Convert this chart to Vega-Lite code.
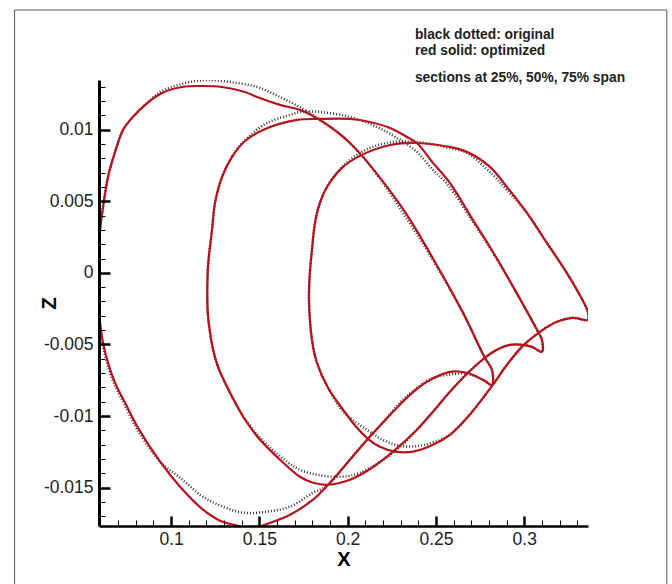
{"$schema":"https://vega.github.io/schema/vega-lite/v6.json","width":489,"height":446,"autosize":"none","padding":{"left":99,"top":80,"right":84,"bottom":58},"background":"white","config":{"view":{"stroke":null},"font":"Liberation Sans"},
"datasets":{
"frame":[{"x":0.01142,"z":0.01836,"x2":0.38074,"z2":-0.02213}],
"notes":[{"x":0.2381,"z":0.0166,"label":"black dotted: original"},{"x":0.2381,"z":0.01552,"label":"red solid: optimized"},{"x":0.2381,"z":0.01361,"label":"sections at 25%, 50%, 75% span"}],
"original":[
{"s":"A","x":0.0581,"z":-0.00014},{"s":"A","x":0.059,"z":0.00181},{"s":"A","x":0.0598,"z":0.003},{"s":"A","x":0.0615,"z":0.00461},{"s":"A","x":0.0643,"z":0.0067},{"s":"A","x":0.0683,"z":0.00845},{"s":"A","x":0.0728,"z":0.00998},{"s":"A","x":0.0779,"z":0.01082},{"s":"A","x":0.0853,"z":0.01173},{"s":"A","x":0.0938,"z":0.01263},{"s":"A","x":0.1023,"z":0.01305},{"s":"A","x":0.1108,"z":0.01333},{"s":"A","x":0.1204,"z":0.01347},{"s":"A","x":0.1334,"z":0.01333},{"s":"A","x":0.1487,"z":0.01298},{"s":"A","x":0.1617,"z":0.01228},{"s":"A","x":0.1747,"z":0.01145},{"s":"A","x":0.1843,"z":0.01068},{"s":"A","x":0.1957,"z":0.0097},{"s":"A","x":0.2087,"z":0.0081},{"s":"A","x":0.22,"z":0.00628},{"s":"A","x":0.2313,"z":0.00419},{"s":"A","x":0.2455,"z":0.00147},{"s":"A","x":0.2653,"z":-0.00279},{"s":"A","x":0.2777,"z":-0.00593},{"s":"A","x":0.2817,"z":-0.00677},{"s":"A","x":0.2817,"z":-0.00782},{"s":"A","x":0.2766,"z":-0.00747},{"s":"A","x":0.2675,"z":-0.00705},{"s":"A","x":0.2568,"z":-0.00712},{"s":"A","x":0.2483,"z":-0.00733},{"s":"A","x":0.2392,"z":-0.00803},{"s":"A","x":0.2296,"z":-0.00907},{"s":"A","x":0.22,"z":-0.01047},{"s":"A","x":0.2115,"z":-0.01159},{"s":"A","x":0.2013,"z":-0.01305},{"s":"A","x":0.1883,"z":-0.01487},{"s":"A","x":0.1804,"z":-0.01536},{"s":"A","x":0.1674,"z":-0.01633},{"s":"A","x":0.1544,"z":-0.01668},{"s":"A","x":0.1408,"z":-0.01675},{"s":"A","x":0.1294,"z":-0.01633},{"s":"A","x":0.1181,"z":-0.01564},{"s":"A","x":0.1051,"z":-0.01431},{"s":"A","x":0.0938,"z":-0.01319},{"s":"A","x":0.0808,"z":-0.01092},{"s":"A","x":0.0735,"z":-0.00915},{"s":"A","x":0.0678,"z":-0.00775},{"s":"A","x":0.0639,"z":-0.00635},{"s":"A","x":0.0612,"z":-0.00496},{"s":"A","x":0.0595,"z":-0.00349},{"s":"A","x":0.0585,"z":-0.00188},{"s":"A","x":0.0581,"z":-0.00014},
{"s":"B","x":0.1208,"z":0.00021},{"s":"B","x":0.1215,"z":0.00126},{"s":"B","x":0.1232,"z":0.003},{"s":"B","x":0.1249,"z":0.00489},{"s":"B","x":0.1289,"z":0.0067},{"s":"B","x":0.1345,"z":0.0081},{"s":"B","x":0.1408,"z":0.00914},{"s":"B","x":0.1544,"z":0.01047},{"s":"B","x":0.1674,"z":0.01103},{"s":"B","x":0.173,"z":0.01124},{"s":"B","x":0.1843,"z":0.01124},{"s":"B","x":0.2013,"z":0.01089},{"s":"B","x":0.2166,"z":0.01019},{"s":"B","x":0.2279,"z":0.00942},{"s":"B","x":0.2392,"z":0.00845},{"s":"B","x":0.2483,"z":0.00719},{"s":"B","x":0.2568,"z":0.00614},{"s":"B","x":0.2709,"z":0.00356},{"s":"B","x":0.2806,"z":0.00174},{"s":"B","x":0.2947,"z":-0.00119},{"s":"B","x":0.3072,"z":-0.00398},{"s":"B","x":0.31,"z":-0.00468},{"s":"B","x":0.31,"z":-0.00551},{"s":"B","x":0.3043,"z":-0.00517},{"s":"B","x":0.2992,"z":-0.00503},{"s":"B","x":0.2919,"z":-0.00503},{"s":"B","x":0.2845,"z":-0.00537},{"s":"B","x":0.2777,"z":-0.00593},{"s":"B","x":0.2681,"z":-0.00698},{"s":"B","x":0.2579,"z":-0.00831},{"s":"B","x":0.2483,"z":-0.0097},{"s":"B","x":0.2392,"z":-0.01096},{"s":"B","x":0.2257,"z":-0.01256},{"s":"B","x":0.207,"z":-0.01396},{"s":"B","x":0.1957,"z":-0.01424},{"s":"B","x":0.1826,"z":-0.0141},{"s":"B","x":0.173,"z":-0.01375},{"s":"B","x":0.1657,"z":-0.01319},{"s":"B","x":0.1504,"z":-0.01152},{"s":"B","x":0.1419,"z":-0.01019},{"s":"B","x":0.1379,"z":-0.00942},{"s":"B","x":0.1317,"z":-0.00796},{"s":"B","x":0.1266,"z":-0.00656},{"s":"B","x":0.1238,"z":-0.00537},{"s":"B","x":0.1221,"z":-0.00419},{"s":"B","x":0.1208,"z":-0.00279},{"s":"B","x":0.1205,"z":-0.00129},{"s":"B","x":0.1208,"z":0.00021},
{"s":"C","x":0.1787,"z":0.00021},{"s":"C","x":0.1798,"z":0.00161},{"s":"C","x":0.1815,"z":0.00349},{"s":"C","x":0.1843,"z":0.00489},{"s":"C","x":0.19,"z":0.00635},{"s":"C","x":0.2013,"z":0.00789},{"s":"C","x":0.2126,"z":0.00873},{"s":"C","x":0.2257,"z":0.00914},{"s":"C","x":0.2392,"z":0.00914},{"s":"C","x":0.2579,"z":0.00872},{"s":"C","x":0.2675,"z":0.00838},{"s":"C","x":0.2822,"z":0.00684},{"s":"C","x":0.2902,"z":0.00579},{"s":"C","x":0.3015,"z":0.00419},{"s":"C","x":0.3128,"z":0.00209},{"s":"C","x":0.323,"z":0.00021},{"s":"C","x":0.3298,"z":-0.00119},{"s":"C","x":0.336,"z":-0.00272},{"s":"C","x":0.336,"z":-0.00328},{"s":"C","x":0.3275,"z":-0.00314},{"s":"C","x":0.3185,"z":-0.00342},{"s":"C","x":0.3089,"z":-0.00412},{"s":"C","x":0.2992,"z":-0.0051},{"s":"C","x":0.2902,"z":-0.00642},{"s":"C","x":0.2822,"z":-0.00782},{"s":"C","x":0.2681,"z":-0.01005},{"s":"C","x":0.2579,"z":-0.01131},{"s":"C","x":0.2523,"z":-0.01166},{"s":"C","x":0.2409,"z":-0.01208},{"s":"C","x":0.2296,"z":-0.01208},{"s":"C","x":0.22,"z":-0.01166},{"s":"C","x":0.211,"z":-0.01096},{"s":"C","x":0.2013,"z":-0.01012},{"s":"C","x":0.1957,"z":-0.00942},{"s":"C","x":0.1889,"z":-0.00803},{"s":"C","x":0.1826,"z":-0.00628},{"s":"C","x":0.1798,"z":-0.00468},{"s":"C","x":0.1781,"z":-0.00188},{"s":"C","x":0.1787,"z":0.00021}],
"optimized":[
{"s":"A","x":0.0581,"z":-0.00014},{"s":"A","x":0.059,"z":0.00181},{"s":"A","x":0.0598,"z":0.003},{"s":"A","x":0.0615,"z":0.00461},{"s":"A","x":0.0643,"z":0.0067},{"s":"A","x":0.0683,"z":0.00845},{"s":"A","x":0.0728,"z":0.00998},{"s":"A","x":0.0779,"z":0.01082},{"s":"A","x":0.0853,"z":0.01173},{"s":"A","x":0.0949,"z":0.01256},{"s":"A","x":0.1062,"z":0.01298},{"s":"A","x":0.1175,"z":0.01305},{"s":"A","x":0.1289,"z":0.01298},{"s":"A","x":0.1419,"z":0.01263},{"s":"A","x":0.1487,"z":0.01228},{"s":"A","x":0.1617,"z":0.01173},{"s":"A","x":0.173,"z":0.01138},{"s":"A","x":0.1843,"z":0.01068},{"s":"A","x":0.194,"z":0.00984},{"s":"A","x":0.2013,"z":0.00907},{"s":"A","x":0.2087,"z":0.0081},{"s":"A","x":0.2223,"z":0.006},{"s":"A","x":0.2336,"z":0.00405},{"s":"A","x":0.2455,"z":0.00161},{"s":"A","x":0.2653,"z":-0.00279},{"s":"A","x":0.2777,"z":-0.00593},{"s":"A","x":0.2817,"z":-0.00677},{"s":"A","x":0.2817,"z":-0.00782},{"s":"A","x":0.2766,"z":-0.00747},{"s":"A","x":0.2675,"z":-0.00698},{"s":"A","x":0.2579,"z":-0.00691},{"s":"A","x":0.2449,"z":-0.00761},{"s":"A","x":0.2353,"z":-0.00852},{"s":"A","x":0.2257,"z":-0.0097},{"s":"A","x":0.2115,"z":-0.01159},{"s":"A","x":0.2013,"z":-0.01305},{"s":"A","x":0.1889,"z":-0.0148},{"s":"A","x":0.1804,"z":-0.01584},{"s":"A","x":0.1674,"z":-0.01689},{"s":"A","x":0.1515,"z":-0.01766},{"s":"A","x":0.1447,"z":-0.01794},{"s":"A","x":0.1374,"z":-0.01766},{"s":"A","x":0.1277,"z":-0.01731},{"s":"A","x":0.1181,"z":-0.01654},{"s":"A","x":0.1051,"z":-0.01494},{"s":"A","x":0.0938,"z":-0.01319},{"s":"A","x":0.0813,"z":-0.01082},{"s":"A","x":0.074,"z":-0.00908},{"s":"A","x":0.0683,"z":-0.00768},{"s":"A","x":0.0643,"z":-0.00628},{"s":"A","x":0.0615,"z":-0.00489},{"s":"A","x":0.0598,"z":-0.00349},{"s":"A","x":0.0585,"z":-0.00188},{"s":"A","x":0.0581,"z":-0.00014},
{"s":"B","x":0.1208,"z":0.00021},{"s":"B","x":0.1215,"z":0.00126},{"s":"B","x":0.1232,"z":0.003},{"s":"B","x":0.1249,"z":0.00489},{"s":"B","x":0.1289,"z":0.0067},{"s":"B","x":0.1345,"z":0.0081},{"s":"B","x":0.1419,"z":0.00921},{"s":"B","x":0.1521,"z":0.00998},{"s":"B","x":0.1713,"z":0.01068},{"s":"B","x":0.1843,"z":0.01075},{"s":"B","x":0.2013,"z":0.01075},{"s":"B","x":0.2126,"z":0.01054},{"s":"B","x":0.224,"z":0.01012},{"s":"B","x":0.2336,"z":0.00949},{"s":"B","x":0.2392,"z":0.00907},{"s":"B","x":0.2483,"z":0.00768},{"s":"B","x":0.2579,"z":0.00628},{"s":"B","x":0.2709,"z":0.0037},{"s":"B","x":0.2806,"z":0.00181},{"s":"B","x":0.2947,"z":-0.00119},{"s":"B","x":0.3072,"z":-0.00398},{"s":"B","x":0.31,"z":-0.00468},{"s":"B","x":0.31,"z":-0.00551},{"s":"B","x":0.3043,"z":-0.00517},{"s":"B","x":0.2992,"z":-0.00503},{"s":"B","x":0.2919,"z":-0.00503},{"s":"B","x":0.2845,"z":-0.00537},{"s":"B","x":0.2777,"z":-0.00593},{"s":"B","x":0.2681,"z":-0.00698},{"s":"B","x":0.2579,"z":-0.00831},{"s":"B","x":0.2483,"z":-0.0097},{"s":"B","x":0.2392,"z":-0.01096},{"s":"B","x":0.2257,"z":-0.01249},{"s":"B","x":0.2138,"z":-0.01361},{"s":"B","x":0.2013,"z":-0.01445},{"s":"B","x":0.1889,"z":-0.0148},{"s":"B","x":0.1804,"z":-0.01466},{"s":"B","x":0.173,"z":-0.01424},{"s":"B","x":0.1617,"z":-0.01305},{"s":"B","x":0.1504,"z":-0.01166},{"s":"B","x":0.1419,"z":-0.01026},{"s":"B","x":0.1379,"z":-0.00942},{"s":"B","x":0.1317,"z":-0.00796},{"s":"B","x":0.1266,"z":-0.00656},{"s":"B","x":0.1238,"z":-0.00537},{"s":"B","x":0.1221,"z":-0.00419},{"s":"B","x":0.1208,"z":-0.00279},{"s":"B","x":0.1205,"z":-0.00129},{"s":"B","x":0.1208,"z":0.00021},
{"s":"C","x":0.1787,"z":0.00021},{"s":"C","x":0.1798,"z":0.00161},{"s":"C","x":0.1815,"z":0.00349},{"s":"C","x":0.1843,"z":0.00489},{"s":"C","x":0.1883,"z":0.006},{"s":"C","x":0.1974,"z":0.0074},{"s":"C","x":0.2081,"z":0.00824},{"s":"C","x":0.224,"z":0.00893},{"s":"C","x":0.2392,"z":0.00907},{"s":"C","x":0.2579,"z":0.00879},{"s":"C","x":0.2675,"z":0.00845},{"s":"C","x":0.2806,"z":0.0074},{"s":"C","x":0.2902,"z":0.006},{"s":"C","x":0.3015,"z":0.00419},{"s":"C","x":0.3128,"z":0.00209},{"s":"C","x":0.323,"z":0.00021},{"s":"C","x":0.3298,"z":-0.00119},{"s":"C","x":0.336,"z":-0.00272},{"s":"C","x":0.336,"z":-0.00328},{"s":"C","x":0.3275,"z":-0.00314},{"s":"C","x":0.3185,"z":-0.00342},{"s":"C","x":0.3089,"z":-0.00412},{"s":"C","x":0.2992,"z":-0.0051},{"s":"C","x":0.2902,"z":-0.00642},{"s":"C","x":0.2822,"z":-0.00782},{"s":"C","x":0.2681,"z":-0.01005},{"s":"C","x":0.2579,"z":-0.01131},{"s":"C","x":0.2483,"z":-0.01201},{"s":"C","x":0.237,"z":-0.01249},{"s":"C","x":0.2268,"z":-0.01249},{"s":"C","x":0.2183,"z":-0.01215},{"s":"C","x":0.2115,"z":-0.01159},{"s":"C","x":0.2053,"z":-0.01082},{"s":"C","x":0.1974,"z":-0.00956},{"s":"C","x":0.1889,"z":-0.00803},{"s":"C","x":0.1826,"z":-0.00628},{"s":"C","x":0.1798,"z":-0.00468},{"s":"C","x":0.1781,"z":-0.00188},{"s":"C","x":0.1787,"z":0.00021}]
},
"encoding":{
"x":{"field":"x","type":"quantitative","scale":{"domain":[0.0592,0.3361],"nice":false,"zero":false},"axis":{"title":"X","titleFont":"Liberation Sans","titleFontWeight":"bold","titleFontSize":20,"titleColor":"#000","titlePadding":-2,"grid":false,"zindex":1,"domainColor":"#000","domainWidth":2.5,"tickColor":"#000","values":[0.06,0.07,0.08,0.09,0.1,0.11,0.12,0.13,0.14,0.15,0.16,0.17,0.18,0.19,0.2,0.21,0.22,0.23,0.24,0.25,0.26,0.27,0.28,0.29,0.3,0.31,0.32,0.33],"labelExpr":"abs(round(datum.value*100)%5)==0 ? round(datum.value*100)/100+'' : ''","labelFont":"Liberation Sans","labelFontSize":17.5,"labelColor":"#222","labelPadding":14,"labelOverlap":false,"labelFlush":false,"tickSize":{"condition":{"test":"abs(round(datum.value*100)%5)==0","value":-10},"value":-6},"tickWidth":{"condition":{"test":"abs(round(datum.value*100)%5)==0","value":2.5},"value":1}}},
"y":{"field":"z","type":"quantitative","scale":{"domain":[-0.01768,0.01347],"nice":false,"zero":false},"axis":{"title":"Z","titleFont":"Liberation Sans","titleFontWeight":"bold","titleFontSize":20,"titleColor":"#000","titlePadding":-16,"grid":false,"zindex":1,"domainColor":"#000","domainWidth":3,"tickColor":"#000","values":[-0.017,-0.016,-0.015,-0.014,-0.013,-0.012,-0.011,-0.01,-0.009,-0.008,-0.007,-0.006,-0.005,-0.004,-0.003,-0.002,-0.001,0,0.001,0.002,0.003,0.004,0.005,0.006,0.007,0.008,0.009,0.01,0.011,0.012,0.013],"labelExpr":"abs(round(datum.value*1000)%5)==0 ? round(datum.value*1000)/1000+'' : ''","labelFont":"Liberation Sans","labelFontSize":17.5,"labelColor":"#222","labelPadding":17,"labelOverlap":false,"labelFlush":false,"tickSize":{"condition":{"test":"abs(round(datum.value*1000)%5)==0","value":-11},"value":-6},"tickWidth":{"condition":{"test":"abs(round(datum.value*1000)%5)==0","value":2.5},"value":1}}}
},
"layer":[
{"data":{"name":"frame"},"mark":{"type":"rect","fill":null,"stroke":"#555","strokeWidth":1,"clip":false},"encoding":{"x2":{"field":"x2"},"y2":{"field":"z2"}}},
{"data":{"name":"original"},"mark":{"type":"line","clip":true,"color":"#333","strokeWidth":2.5,"strokeDash":[1,2],"interpolate":"catmull-rom"},"encoding":{"detail":{"field":"s"},"order":{"value":null}}},
{"data":{"name":"optimized"},"mark":{"type":"line","clip":true,"color":"#b5121b","strokeWidth":2.2,"interpolate":"catmull-rom"},"encoding":{"detail":{"field":"s"},"order":{"value":null}}},
{"data":{"name":"notes"},"mark":{"type":"text","align":"left","baseline":"middle","font":"Liberation Sans","fontSize":13.8,"fontWeight":"bold","color":"#222","clip":false},"encoding":{"text":{"field":"label"}}}
]}
